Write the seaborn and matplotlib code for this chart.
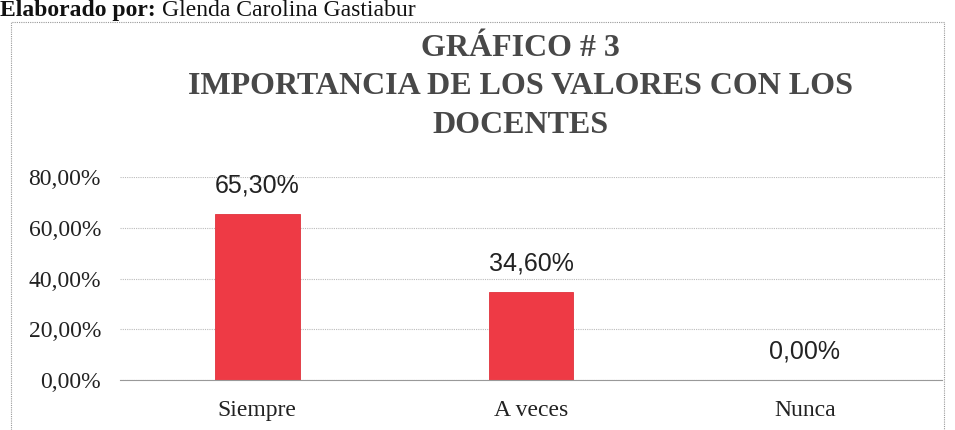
import numpy
import pandas
import seaborn as sns
import matplotlib.pyplot as plt
from matplotlib.patches import Rectangle

categorias = ["Siempre", "A veces", "Nunca"]
porcentajes = [65.30, 34.60, 0.00]
marcas_y = [0, 20, 40, 60, 80]

df = pandas.DataFrame({"Respuesta": categorias, "Porcentaje": porcentajes})

sns.set_theme(style="white")
plt.rcParams["font.family"] = ["Liberation Serif", "DejaVu Serif"]

fig = plt.figure(figsize=(9.55, 4.3), dpi=100)
ax = fig.add_axes([0.126, 0.116, 0.86, 0.472])

sns.barplot(data=df, x="Respuesta", y="Porcentaje", color="#EE3A45",
            width=0.31, saturation=1, edgecolor="#E0323C", linewidth=0.6, ax=ax)

def fmt(v):
    return "{:.2f}%".format(v).replace(".", ",")

for i, v in enumerate(porcentajes):
    ax.text(i, v + 6.5, fmt(v), ha="center", va="bottom", fontsize=18,
            family="Liberation Sans", color="#222222")

ax.set_xlim(-0.5, 2.5)
ax.set_ylim(0, 80)
ax.set_yticks(marcas_y)
ax.set_yticklabels([fmt(v) for v in marcas_y], fontsize=17, color="#222222")
ax.tick_params(axis="x", labelsize=17, labelcolor="#222222", length=0, pad=14)
ax.tick_params(axis="y", length=0, pad=14)
ax.set_xticks([-0.5, 0.5, 1.5, 2.5], minor=True)
ax.tick_params(axis="x", which="minor", length=5, color="#999999", width=0.8, direction="out")
ax.set_xlabel("")
ax.set_ylabel("")
ax.yaxis.grid(True, color="#BBBBBB", linestyle=(0, (1, 1)), linewidth=0.8)
ax.set_axisbelow(True)
for s in ["top", "right", "left"]:
    ax.spines[s].set_visible(False)
ax.spines["bottom"].set_color("#999999")
ax.spines["bottom"].set_linewidth(0.8)

# borde punteado del grafico
fig.patches.append(Rectangle((0.011, -0.05), 0.978, 1.0 - 22 / 430 + 0.05,
                             transform=fig.transFigure, fill=False,
                             edgecolor="#999999", linestyle=(0, (1, 1)), linewidth=0.8))

titulo = ["GRÁFICO # 3", "IMPORTANCIA DE LOS VALORES CON LOS", "DOCENTES"]
for txt, yy in zip(titulo, [49, 87, 125]):
    fig.text(0.545, 1 - yy / 430, txt, ha="center", va="center",
             fontsize=23, fontweight="bold", color="#484848")

t1 = fig.text(0.0, 1 - 16 / 430, "Elaborado por: ", ha="left", va="baseline",
              fontsize=17, fontweight="bold", color="#111111")
fig.canvas.draw()
bb = t1.get_window_extent()
fig.text(bb.x1 / fig.bbox.width, 1 - 16 / 430, "Glenda Carolina Gastiabur", ha="left",
         va="baseline", fontsize=17, color="#111111")

plt.savefig("out.png", dpi=100)
